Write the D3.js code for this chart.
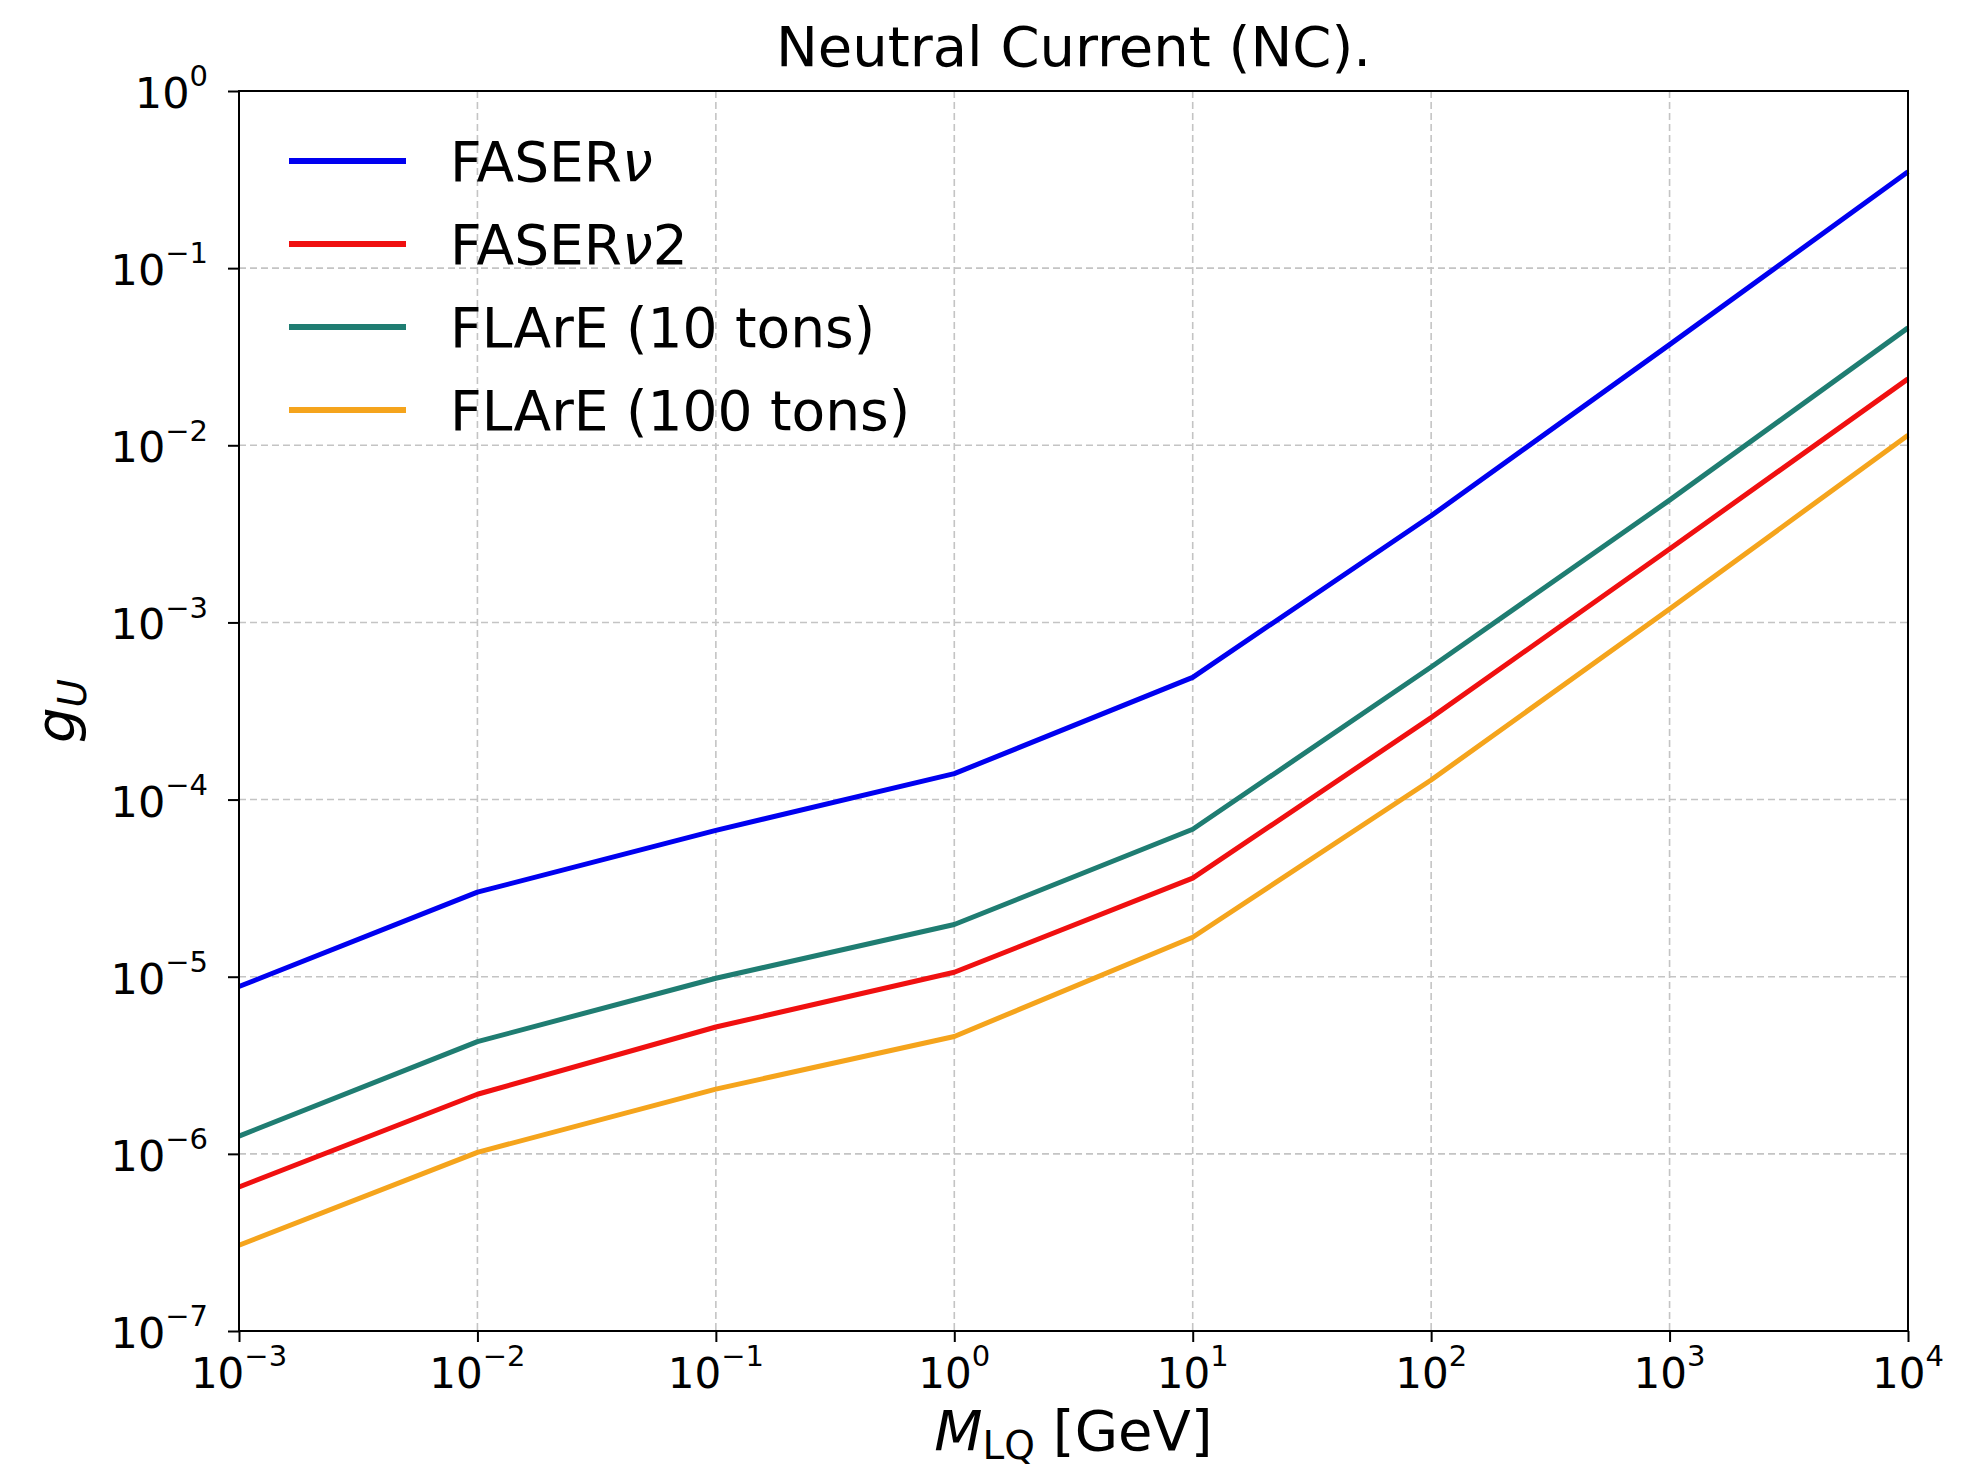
<!DOCTYPE html>
<html>
<head>
<meta charset="utf-8">
<script src="https://d3js.org/d3.v7.min.js"></script>
<style>
  body { margin: 0; background: #fff; }
  text { font-family: "DejaVu Sans", sans-serif; fill: #000; }
</style>
</head>
<body>
<div id="chart"></div>
<script>
// masses (GeV) where the curves are sampled
var masses = [1e-3, 1e-2, 1e-1, 1e0, 1e1, 1e2, 1e3, 1e4];

var seriesNames = ["FASER\u03bd", "FASER\u03bd2", "FLArE (10 tons)", "FLArE (100 tons)"];
var seriesColors = ["#0000f0", "#f01010", "#1f7d72", "#f5a41c"];

// values, g_U at each mass
var faserNu  = [8.8e-6, 3.0e-5, 6.7e-5, 1.4e-4, 4.9e-4, 4.0e-3, 3.7e-2, 0.35];
var faserNu2 = [6.5e-7, 2.17e-6, 5.2e-6, 1.06e-5, 3.6e-5, 2.9e-4, 2.6e-3, 0.0237];
var flare10  = [1.26e-6, 4.3e-6, 9.8e-6, 1.97e-5, 6.8e-5, 5.6e-4, 4.9e-3, 0.046];
var flare100 = [3.05e-7, 1.02e-6, 2.32e-6, 4.6e-6, 1.67e-5, 1.29e-4, 1.19e-3, 0.0114];

var xMajor = [-3, -2, -1, 0, 1, 2, 3, 4];
var yMajor = [-7, -6, -5, -4, -3, -2, -1, 0];

var W = 1973, H = 1474;
var mLeft = 239, mRight = 1908, mTop = 91, mBottom = 1331;

var svg = d3.select("#chart").append("svg").attr("width", W).attr("height", H);

var x = d3.scaleLog().domain([1e-3, 1e4]).range([mLeft, mRight]);
var y = d3.scaleLog().domain([1e-7, 1]).range([mBottom, mTop]);

// minor tick positions
function minors(exps) {
  var out = [];
  for (var i = 0; i < exps.length - 1; i++) {
    for (var k = 2; k <= 9; k++) out.push(k * Math.pow(10, exps[i]));
  }
  return out;
}

// grid
var grid = svg.append("g");
xMajor.forEach(function(e) {
  grid.append("line")
    .attr("x1", x(Math.pow(10, e))).attr("x2", x(Math.pow(10, e)))
    .attr("y1", mTop).attr("y2", mBottom)
    .attr("stroke", "#c4c4c4").attr("stroke-width", 1.6).attr("stroke-dasharray", "7,4");
});
yMajor.forEach(function(e) {
  grid.append("line")
    .attr("x1", mLeft).attr("x2", mRight)
    .attr("y1", y(Math.pow(10, e))).attr("y2", y(Math.pow(10, e)))
    .attr("stroke", "#c4c4c4").attr("stroke-width", 1.6).attr("stroke-dasharray", "7,4");
});

// curves
var allSeries = [faserNu, faserNu2, flare10, flare100];
var line = d3.line().x(function(d) { return x(d[0]); }).y(function(d) { return y(d[1]); });
// draw order so blue ends on top like the original
[3, 1, 2, 0].forEach(function(i) {
  svg.append("path")
    .datum(d3.zip(masses, allSeries[i]))
    .attr("d", line)
    .attr("fill", "none")
    .attr("stroke", seriesColors[i])
    .attr("stroke-width", 5)
    .attr("stroke-linejoin", "round");
});

// frame
svg.append("rect").attr("x", mLeft).attr("y", mTop)
  .attr("width", mRight - mLeft).attr("height", mBottom - mTop)
  .attr("fill", "none").attr("stroke", "#000").attr("stroke-width", 2);

function supLabel(sel, e) {
  sel.text("10");
  sel.append("tspan")
    .attr("dy", "-0.75em")
    .style("font-size", "29px")
    .text(e < 0 ? "\u2212" + (-e) : String(e));
}

// x axis
var xAxis = svg.append("g").attr("transform", "translate(0," + mBottom + ")");
xAxis.call(d3.axisBottom(x).tickValues(minors(xMajor)).tickSize(6).tickFormat(""));
xAxis.call(d3.axisBottom(x).tickValues(xMajor.map(function(e) { return Math.pow(10, e); })).tickSize(11).tickFormat(""));
xAxis.selectAll(".domain").remove();
xAxis.selectAll("line").attr("stroke", "#000").attr("stroke-width", 2);

xMajor.forEach(function(e) {
  var t = svg.append("text")
    .attr("x", x(Math.pow(10, e)))
    .attr("y", mBottom + 57)
    .attr("text-anchor", "middle")
    .style("font-size", "42px");
  supLabel(t, e);
});

// y axis
var yAxis = svg.append("g").attr("transform", "translate(" + mLeft + ",0)");
yAxis.call(d3.axisLeft(y).tickValues(minors(yMajor)).tickSize(6).tickFormat(""));
yAxis.call(d3.axisLeft(y).tickValues(yMajor.map(function(e) { return Math.pow(10, e); })).tickSize(11).tickFormat(""));
yAxis.selectAll(".domain").remove();
yAxis.selectAll("line").attr("stroke", "#000").attr("stroke-width", 2);

yMajor.forEach(function(e) {
  var t = svg.append("text")
    .attr("x", mLeft - 31)
    .attr("y", y(Math.pow(10, e)) + 17)
    .attr("text-anchor", "end")
    .style("font-size", "43px");
  supLabel(t, e);
});

// title
svg.append("text")
  .attr("x", (mLeft + mRight) / 2).attr("y", 66)
  .attr("text-anchor", "middle")
  .style("font-size", "56px")
  .text("Neutral Current (NC).");

// x label
var xl = svg.append("text")
  .attr("x", (mLeft + mRight) / 2).attr("y", 1450)
  .attr("text-anchor", "middle")
  .style("font-size", "56px");
xl.append("tspan").style("font-style", "italic").text("M");
xl.append("tspan").attr("dy", 9).style("font-size", "39px").text("LQ");
xl.append("tspan").attr("dy", -9).text(" [GeV]");

// y label
var yl = svg.append("text")
  .attr("transform", "translate(75," + ((mTop + mBottom) / 2) + ") rotate(-90)")
  .attr("text-anchor", "middle")
  .style("font-size", "56px");
yl.append("tspan").style("font-style", "italic").text("g");
yl.append("tspan").attr("dy", 11).style("font-size", "39px").style("font-style", "italic").text("U");

// legend
var legend = svg.append("g");
seriesNames.forEach(function(name, i) {
  var ly = 161 + i * 83;
  legend.append("line")
    .attr("x1", 289).attr("x2", 406).attr("y1", ly).attr("y2", ly)
    .attr("stroke", seriesColors[i]).attr("stroke-width", 6);
  var t = legend.append("text")
    .attr("x", 450).attr("y", ly + 20)
    .style("font-size", "55px");
  if (name.indexOf("\u03bd") >= 0) {
    var parts = name.split("\u03bd");
    t.append("tspan").text(parts[0]);
    t.append("tspan").style("font-style", "italic").text("\u03bd");
    t.append("tspan").text(parts[1]);
  } else {
    t.text(name);
  }
});
</script>
</body>
</html>
